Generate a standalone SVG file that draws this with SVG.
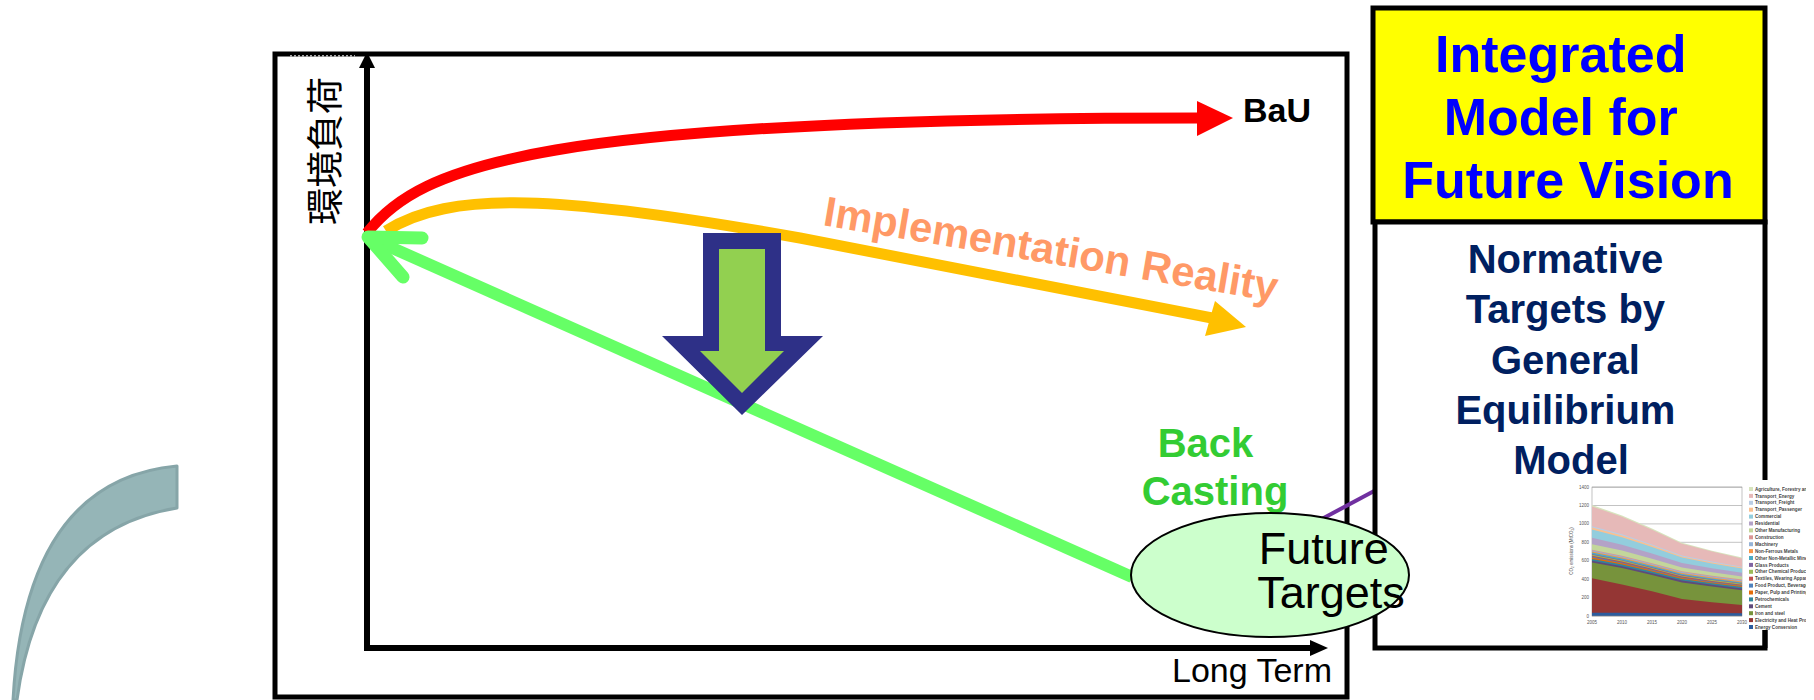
<svg xmlns="http://www.w3.org/2000/svg" width="1814" height="700" viewBox="0 0 1814 700">
  <style>
    .sans { font-family: "Liberation Sans", Arial, sans-serif; }
    .bold { font-weight: bold; }
    .frame { fill: none; stroke: #000; stroke-width: 5; }
    .axis { stroke: #000; stroke-width: 6; fill: none; }
    .curve { fill: none; stroke-width: 11; }
    .tick { font-family: "Liberation Sans", Arial, sans-serif; font-size: 4.5px; fill: #555; }
    .leg { font-family: "Liberation Sans", Arial, sans-serif; font-size: 4.6px; font-weight: bold; fill: #444; }
    .grid { stroke: #9a9a9a; stroke-width: 0.6; }
  </style>
  <defs>
    <clipPath id="legendClip">
      <rect x="1740" y="480" width="66" height="150"/>
    </clipPath>
  </defs>

  <rect width="1814" height="700" fill="#fff"/>

  <!-- decorative teal band on the left -->
  <g id="teal-band">
    <path d="M177,466 Q25,480 13,700 L17,700 Q40,530 177,508 Z" fill="#95B5B7" stroke="#86A5A8" stroke-width="3" stroke-linejoin="round"/>
  </g>

  <!-- chart frame and axes -->
  <g id="chart-frame">
    <rect class="frame" x="275" y="54" width="1072" height="643"/>
    <line x1="290" y1="56" x2="355" y2="56" stroke="#aaa" stroke-width="2" stroke-dasharray="2 2"/>
  </g>
  <g id="axes">
    <line class="axis" x1="367" y1="648" x2="367" y2="64"/>
    <polygon points="367,52 359,68 375,68" fill="#000"/>
    <line class="axis" x1="364" y1="648" x2="1314" y2="648"/>
    <polygon points="1328,648 1310,640 1310,656" fill="#000"/>
    <text id="y-label" transform="translate(323,151) rotate(-90)" text-anchor="middle" dominant-baseline="central" font-family="'Noto Sans CJK JP', 'Noto Sans CJK SC', sans-serif" font-size="37">環境負荷</text>
    <text id="x-label" class="sans" x="1332" y="682" text-anchor="end" font-size="34">Long Term</text>
  </g>

  <!-- trajectories -->
  <g id="connectors">
    <g id="bau">
      <path class="curve" d="M367,233 C420,165 540,118 1200,118" stroke="#FF0000" stroke-width="12"/>
      <polygon points="1197,101 1233,118 1197,136" fill="#FF0000"/>
    </g>
    <g id="implementation">
      <path class="curve" d="M386,231 C450,190 560,195 800,238 L1212,318" stroke="#FFC000"/>
      <polygon points="1215,301 1246,327 1205,336" fill="#FFC000"/>
    </g>
    <g id="backcasting">
      <line x1="1132" y1="577" x2="372" y2="239" stroke="#66FF66" stroke-width="12"/>
      <polyline points="422,238 368,237 403,277" fill="none" stroke="#66FF66" stroke-width="13" stroke-linecap="round" stroke-linejoin="round"/>
    </g>
    <line id="link" x1="1305" y1="528" x2="1376" y2="490" stroke="#7030A0" stroke-width="4"/>
  </g>

  <!-- block arrow showing the reduction -->
  <g id="reduction-arrow">
    <polygon points="703,233 781,233 781,336 823,336 742,415 662,336 703,336" fill="#2E3087"/>
    <polygon points="719,249 765,249 765,351 784,351 742,393 700,351 719,351" fill="#92D050"/>
  </g>

  <!-- curve labels -->
  <g id="labels">
    <text id="bau-label" class="sans bold" x="1243" y="122" font-size="34" fill="#000">BaU</text>
    <text id="impl-label" class="sans bold" transform="translate(822,225) rotate(9.6)" font-size="42" fill="#FF9966">Implementation Reality</text>
    <text id="back-label" class="sans bold" text-anchor="middle" font-size="40" fill="#33CC33">
      <tspan x="1211" y="457">Back</tspan>
      <tspan x="1215" y="505">Casting</tspan>
    </text>
  </g>

  <!-- right-hand panel -->
  <g id="integrated-model">
    <rect x="1373" y="8" width="392" height="214" fill="#FFFF00" stroke="#000" stroke-width="5"/>
    <text class="sans bold" text-anchor="middle" font-size="52" fill="#0000FF">
      <tspan x="1568" y="72">Integrated</tspan>
      <tspan x="1568" y="135">Model for</tspan>
      <tspan x="1568" y="198">Future Vision</tspan>
    </text>
  </g>
  <g id="normative-targets">
    <rect x="1375" y="222" width="390" height="426" fill="#fff" stroke="#000" stroke-width="5"/>
    <text class="sans bold" text-anchor="middle" font-size="40" fill="#002060">
      <tspan x="1571" y="273">Normative</tspan>
      <tspan x="1571" y="323">Targets by</tspan>
      <tspan x="1571" y="374">General</tspan>
      <tspan x="1571" y="424">Equilibrium</tspan>
      <tspan x="1571" y="474">Model</tspan>
    </text>
  </g>

  <!-- target ellipse -->
  <g id="future-targets">
    <ellipse cx="1270" cy="575" rx="139" ry="62" fill="#CCFFCC" stroke="#000" stroke-width="2"/>
    <text class="sans" text-anchor="middle" font-size="45" fill="#000">
      <tspan x="1330" y="564">Future</tspan>
      <tspan x="1331" y="608">Targets</tspan>
    </text>
  </g>

  <!-- stacked-area emissions chart -->
  <g id="emissions-chart">
    <rect x="1566" y="480" width="248" height="150" fill="#fff"/>
    <g class="grid">
      <line x1="1592" y1="487.1" x2="1742" y2="487.1"/>
      <line x1="1592" y1="505.5" x2="1742" y2="505.5"/>
      <line x1="1592" y1="523.9" x2="1742" y2="523.9"/>
      <line x1="1592" y1="542.3" x2="1742" y2="542.3"/>
      <line x1="1592" y1="560.7" x2="1742" y2="560.7"/>
      <line x1="1592" y1="579.2" x2="1742" y2="579.2"/>
      <line x1="1592" y1="597.6" x2="1742" y2="597.6"/>
    </g>
    <rect x="1592" y="487.1" width="150" height="128.9" fill="none" stroke="#999" stroke-width="0.6"/>
    <g id="areas" stroke="none">
      <polygon fill="#D7E4BD" points="1592,505 1622,515.5 1652,528.6 1682,542.8 1712,550.7 1742,557.5 1742,616 1592,616"/>
      <polygon fill="#E6B9B8" points="1592,506.4 1622,516.8 1652,529.8 1682,543.8 1712,551.6 1742,558.4 1742,616 1592,616"/>
      <polygon fill="#B9CDE5" points="1592,526.2 1622,534.3 1652,544.4 1682,555.4 1712,561.4 1742,566.7 1742,616 1592,616"/>
      <polygon fill="#FAC090" points="1592,527.6 1622,535.6 1652,545.6 1682,556.4 1712,562.4 1742,567.6 1742,616 1592,616"/>
      <polygon fill="#93CDDD" points="1592,529.4 1622,537.2 1652,547 1682,557.6 1712,563.5 1742,568.6 1742,616 1592,616"/>
      <polygon fill="#B3A2C7" points="1592,537.7 1622,544.7 1652,553.5 1682,562.9 1712,568.2 1742,572.7 1742,616 1592,616"/>
      <polygon fill="#C3D69B" points="1592,544.2 1622,550.6 1652,558.7 1682,567.4 1712,572.2 1742,576.4 1742,616 1592,616"/>
      <polygon fill="#D99694" points="1592,549.7 1622,555.7 1652,563.2 1682,571.2 1712,575.7 1742,579.6 1742,616 1592,616"/>
      <polygon fill="#95B3D7" points="1592,550.6 1622,556.6 1652,564.1 1682,572.1 1712,576.6 1742,580.5 1742,616 1592,616"/>
      <polygon fill="#F79646" points="1592,551.5 1622,557.5 1652,565 1682,573.1 1712,577.6 1742,581.5 1742,616 1592,616"/>
      <polygon fill="#4BACC6" points="1592,552.5 1622,558.5 1652,566 1682,574 1712,578.5 1742,582.4 1742,616 1592,616"/>
      <polygon fill="#8064A2" points="1592,554.1 1622,559.9 1652,567.2 1682,575.1 1712,579.5 1742,583.3 1742,616 1592,616"/>
      <polygon fill="#9BBB59" points="1592,554.8 1622,560.6 1652,567.9 1682,575.7 1712,580 1742,583.8 1742,616 1592,616"/>
      <polygon fill="#C0504D" points="1592,555.7 1622,561.5 1652,568.8 1682,576.6 1712,580.9 1742,584.7 1742,616 1592,616"/>
      <polygon fill="#4F81BD" points="1592,556.6 1622,562.4 1652,569.7 1682,577.5 1712,581.8 1742,585.6 1742,616 1592,616"/>
      <polygon fill="#E46C0A" points="1592,557.5 1622,563.2 1652,570.4 1682,578.1 1712,582.4 1742,586.1 1742,616 1592,616"/>
      <polygon fill="#31859C" points="1592,558.9 1622,564.5 1652,571.5 1682,579.1 1712,583.3 1742,587 1742,616 1592,616"/>
      <polygon fill="#604A7B" points="1592,560.7 1622,566.2 1652,573.2 1682,580.6 1712,584.8 1742,588.4 1742,616 1592,616"/>
      <polygon fill="#77933C" points="1592,562.6 1622,568.1 1652,575 1682,582.5 1712,586.6 1742,590.2 1742,616 1592,616"/>
      <polygon fill="#943634" points="1592,578.2 1622,584.6 1652,591.3 1682,599 1712,602.3 1742,605 1742,616 1592,616"/>
      <polygon fill="#2C5C9E" points="1592,612.8 1622,612.8 1652,612.9 1682,613 1712,613.1 1742,613.2 1742,616 1592,616"/>
    </g>
    <line x1="1592" y1="616" x2="1742" y2="616" stroke="#888" stroke-width="0.6"/>
    <g text-anchor="end">
      <text class="tick" x="1589" y="617.5">0</text>
      <text class="tick" x="1589" y="599.1">200</text>
      <text class="tick" x="1589" y="580.7">400</text>
      <text class="tick" x="1589" y="562.2">600</text>
      <text class="tick" x="1589" y="543.8">800</text>
      <text class="tick" x="1589" y="525.4">1000</text>
      <text class="tick" x="1589" y="507">1200</text>
      <text class="tick" x="1589" y="488.6">1400</text>
    </g>
    <g text-anchor="middle">
      <text class="tick" x="1592" y="624">2005</text>
      <text class="tick" x="1622" y="624">2010</text>
      <text class="tick" x="1652" y="624">2015</text>
      <text class="tick" x="1682" y="624">2020</text>
      <text class="tick" x="1712" y="624">2025</text>
      <text class="tick" x="1742" y="624">2030</text>
    </g>
    <text class="tick" transform="translate(1573,551) rotate(-90)" text-anchor="middle">CO₂ emissions (MtCO₂)</text>
    <g id="legend" clip-path="url(#legendClip)">
      <rect x="1749" y="487" width="4" height="4" fill="#D7E4BD"/><text class="leg" x="1755" y="490.6">Agriculture, Forestry and Fish</text>
      <rect x="1749" y="493.9" width="4" height="4" fill="#E6B9B8"/><text class="leg" x="1755" y="497.5">Transport_Energy</text>
      <rect x="1749" y="500.8" width="4" height="4" fill="#B9CDE5"/><text class="leg" x="1755" y="504.4">Transport_Freight</text>
      <rect x="1749" y="507.7" width="4" height="4" fill="#FAC090"/><text class="leg" x="1755" y="511.3">Transport_Passenger</text>
      <rect x="1749" y="514.6" width="4" height="4" fill="#93CDDD"/><text class="leg" x="1755" y="518.2">Commercial</text>
      <rect x="1749" y="521.5" width="4" height="4" fill="#B3A2C7"/><text class="leg" x="1755" y="525.1">Residential</text>
      <rect x="1749" y="528.4" width="4" height="4" fill="#C3D69B"/><text class="leg" x="1755" y="532">Other Manufacturing</text>
      <rect x="1749" y="535.3" width="4" height="4" fill="#D99694"/><text class="leg" x="1755" y="538.9">Construction</text>
      <rect x="1749" y="542.2" width="4" height="4" fill="#95B3D7"/><text class="leg" x="1755" y="545.8">Machinery</text>
      <rect x="1749" y="549.1" width="4" height="4" fill="#F79646"/><text class="leg" x="1755" y="552.7">Non-Ferrous Metals</text>
      <rect x="1749" y="556" width="4" height="4" fill="#4BACC6"/><text class="leg" x="1755" y="559.6">Other Non-Metallic Minerals</text>
      <rect x="1749" y="562.9" width="4" height="4" fill="#8064A2"/><text class="leg" x="1755" y="566.5">Glass Products</text>
      <rect x="1749" y="569.8" width="4" height="4" fill="#9BBB59"/><text class="leg" x="1755" y="573.4">Other Chemical Products</text>
      <rect x="1749" y="576.7" width="4" height="4" fill="#C0504D"/><text class="leg" x="1755" y="580.3">Textiles, Wearing Apparel and Leather</text>
      <rect x="1749" y="583.6" width="4" height="4" fill="#4F81BD"/><text class="leg" x="1755" y="587.2">Food Product, Beverage and Tobacco</text>
      <rect x="1749" y="590.5" width="4" height="4" fill="#E46C0A"/><text class="leg" x="1755" y="594.1">Paper, Pulp and Printing</text>
      <rect x="1749" y="597.4" width="4" height="4" fill="#31859C"/><text class="leg" x="1755" y="601">Petrochemicals</text>
      <rect x="1749" y="604.3" width="4" height="4" fill="#604A7B"/><text class="leg" x="1755" y="607.9">Cement</text>
      <rect x="1749" y="611.2" width="4" height="4" fill="#77933C"/><text class="leg" x="1755" y="614.8">Iron and steel</text>
      <rect x="1749" y="618.1" width="4" height="4" fill="#943634"/><text class="leg" x="1755" y="621.7">Electricity and Heat Products</text>
      <rect x="1749" y="625" width="4" height="4" fill="#2C5C9E"/><text class="leg" x="1755" y="628.6">Energy Conversion</text>
    </g>
    <line x1="1765" y1="630" x2="1765" y2="648" stroke="#000" stroke-width="5"/>
  </g>
</svg>
